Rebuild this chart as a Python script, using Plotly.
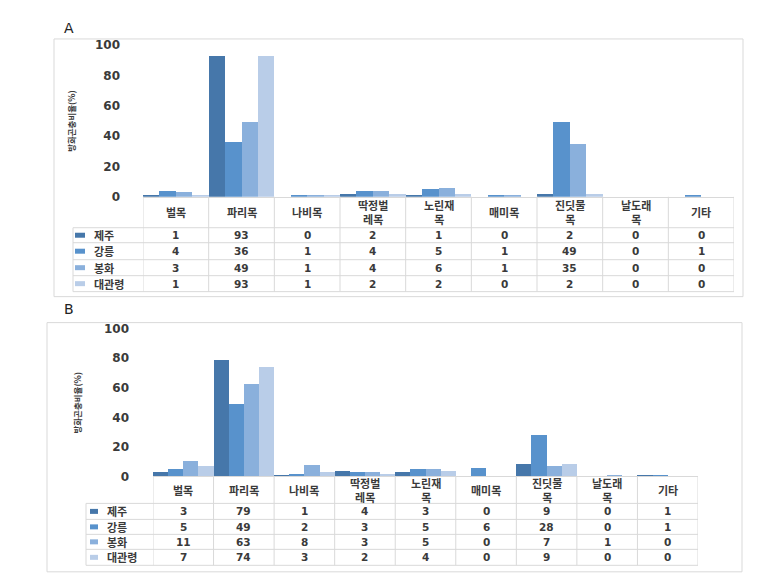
import plotly.graph_objects as go

# ---------------- data ----------------
categories = ["벌목", "파리목", "나비목", "딱정벌레목", "노린재목", "매미목", "진딧물목", "날도래목", "기타"]
series_names = ["제주", "강릉", "봉화", "대관령"]

a_jeju = [1, 93, 0, 2, 1, 0, 2, 0, 0]
a_gangneung = [4, 36, 1, 4, 5, 1, 49, 0, 1]
a_bonghwa = [3, 49, 1, 4, 6, 1, 35, 0, 0]
a_daegwallyeong = [1, 93, 1, 2, 2, 0, 2, 0, 0]

b_jeju = [3, 79, 1, 4, 3, 0, 9, 0, 1]
b_gangneung = [5, 49, 2, 3, 5, 6, 28, 0, 1]
b_bonghwa = [11, 63, 8, 3, 5, 0, 7, 1, 0]
b_daegwallyeong = [7, 74, 3, 2, 4, 0, 9, 0, 0]

y_ticks = [0, 20, 40, 60, 80, 100]
y_title = "방화곤충비율(%)"
panel_labels = ["A", "B"]

# ---------------- styling ----------------
W, H = 773, 579
colors = ["#4677AA", "#5892CC", "#8AB0DC", "#B9CDE8"]
grid_col = "#D9D9D9"
txt_col = "#3A3A3A"
KR = "Noto Sans CJK KR, DejaVu Sans"
NUM = "DejaVu Sans"

# vertical calibration of the capture
V_OFF, V_SCALE = 6.0, 0.977


def px(x):
    return x / W


def py(y):
    yf = (y - V_OFF) / V_SCALE
    return max(0.0, 1 - yf / H)


panels = [
    dict(series=[a_jeju, a_gangneung, a_bonghwa, a_daegwallyeong],
         left=143, right=734, y0=196, y100=44,
         tleft=73, hbot=227, rows=[242, 259, 275, 291],
         frame=(54, 38, 743, 296), letter=(62, 27), ytitle=(71, 120),
         key=(75, 85), keytxt=92, standoff=22),
    dict(series=[b_jeju, b_gangneung, b_bonghwa, b_daegwallyeong],
         left=153, right=698, y0=476, y100=328,
         tleft=86, hbot=503, rows=[519, 534, 549, 565],
         frame=(47, 322, 742, 571.5), letter=(62, 308), ytitle=(77, 402),
         key=(90, 98), keytxt=105, standoff=23),
]


def header_label(c):
    return c[:3] + "<br>" + c[3:] if len(c) > 3 else c


fig = go.Figure()
shapes = []
annotations = []

for pi, p in enumerate(panels):
    xa = "x" if pi == 0 else "x2"
    ya = "y" if pi == 0 else "y2"
    xkey = "xaxis" if pi == 0 else "xaxis2"
    ykey = "yaxis" if pi == 0 else "yaxis2"

    for si, vals in enumerate(p["series"]):
        fig.add_trace(go.Bar(
            x=categories, y=vals, name=series_names[si],
            marker=dict(color=colors[si], line=dict(width=0)),
            xaxis=xa, yaxis=ya, showlegend=False,
        ))

    fig.update_layout(**{
        xkey: dict(domain=[px(p["left"]), px(p["right"])], anchor=ya,
                   type="category", categoryorder="array", categoryarray=categories,
                   range=[-0.5, len(categories) - 0.5],
                   showticklabels=False, ticks="", showgrid=False, zeroline=False,
                   showline=True, linecolor=grid_col, linewidth=1),
        ykey: dict(domain=[py(p["y0"]), py(p["y100"])], anchor=xa,
                   range=[0, 100], tickvals=y_ticks, ticks="",
                   ticklabelstandoff=p["standoff"],
                   tickfont=dict(family=NUM, size=12, color=txt_col, weight="bold"),
                   showgrid=False, zeroline=False, showline=False),
    })

    # frame
    fx0, fy0, fx1, fy1 = p["frame"]
    shapes.append(dict(type="rect", xref="paper", yref="paper",
                       x0=px(fx0), x1=px(fx1), y0=py(fy1), y1=py(fy0),
                       line=dict(color=grid_col, width=1), layer="below"))

    # panel letter
    annotations.append(dict(text=panel_labels[pi], xref="paper", yref="paper",
                            x=px(p["letter"][0]), y=py(p["letter"][1]),
                            xanchor="left", yanchor="middle", showarrow=False,
                            font=dict(family="DejaVu Sans", size=14, color="#222")))
    # y title
    annotations.append(dict(text="<b>" + y_title + "</b>", xref="paper", yref="paper",
                            x=px(p["ytitle"][0]), y=py(p["ytitle"][1]),
                            textangle=-90, showarrow=False,
                            xanchor="center", yanchor="middle",
                            font=dict(family=KR, size=8.5, color=txt_col)))

    # table lines
    top = p["y0"]
    bottom = p["rows"][-1]
    n = len(categories)
    for i in range(n + 1):
        shapes.append(dict(type="line", xref=xa, yref="paper",
                           x0=i - 0.5, x1=i - 0.5, y0=py(top), y1=py(bottom),
                           line=dict(color=grid_col, width=1)))
    shapes.append(dict(type="line", xref="paper", yref="paper",
                       x0=px(p["tleft"]), x1=px(p["tleft"]),
                       y0=py(p["hbot"]), y1=py(bottom),
                       line=dict(color=grid_col, width=1)))
    for yl in [p["hbot"]] + p["rows"]:
        shapes.append(dict(type="line", xref="paper", yref="paper",
                           x0=px(p["tleft"]), x1=px(p["right"]),
                           y0=py(yl), y1=py(yl),
                           line=dict(color=grid_col, width=1)))

    # header labels
    hc = (top + p["hbot"]) / 2
    for c in categories:
        annotations.append(dict(text="<b>" + header_label(c) + "</b>", xref=xa, yref="paper",
                                x=c, y=py(hc), showarrow=False,
                                xanchor="center", yanchor="middle",
                                font=dict(family=KR, size=11, color=txt_col)))

    # rows
    edges = [p["hbot"]] + p["rows"]
    for si, vals in enumerate(p["series"]):
        rc = (edges[si] + edges[si + 1]) / 2
        k0, k1 = p["key"]
        shapes.append(dict(type="rect", xref="paper", yref="paper",
                           x0=px(k0), x1=px(k1), y0=py(rc + 2.5), y1=py(rc - 2.5),
                           fillcolor=colors[si], line=dict(width=0)))
        annotations.append(dict(text="<b>" + series_names[si] + "</b>", xref="paper", yref="paper",
                                x=px(p["keytxt"]), y=py(rc), showarrow=False,
                                xanchor="left", yanchor="middle",
                                font=dict(family=KR, size=11, color=txt_col)))
        for c, v in zip(categories, vals):
            annotations.append(dict(text="<b>" + str(v) + "</b>", xref=xa, yref="paper",
                                    x=c, y=py(rc), showarrow=False,
                                    xanchor="center", yanchor="middle",
                                    font=dict(family=NUM, size=10.5, color=txt_col)))

fig.update_layout(
    width=W, height=H, autosize=False,
    margin=dict(l=0, r=0, t=0, b=0),
    paper_bgcolor="white", plot_bgcolor="white",
    barmode="group", bargap=0, bargroupgap=0,
    shapes=shapes, annotations=annotations,
)

fig.write_html("out.html", config={"displayModeBar": False},
               post_script="document.body.style.margin='0px';")
